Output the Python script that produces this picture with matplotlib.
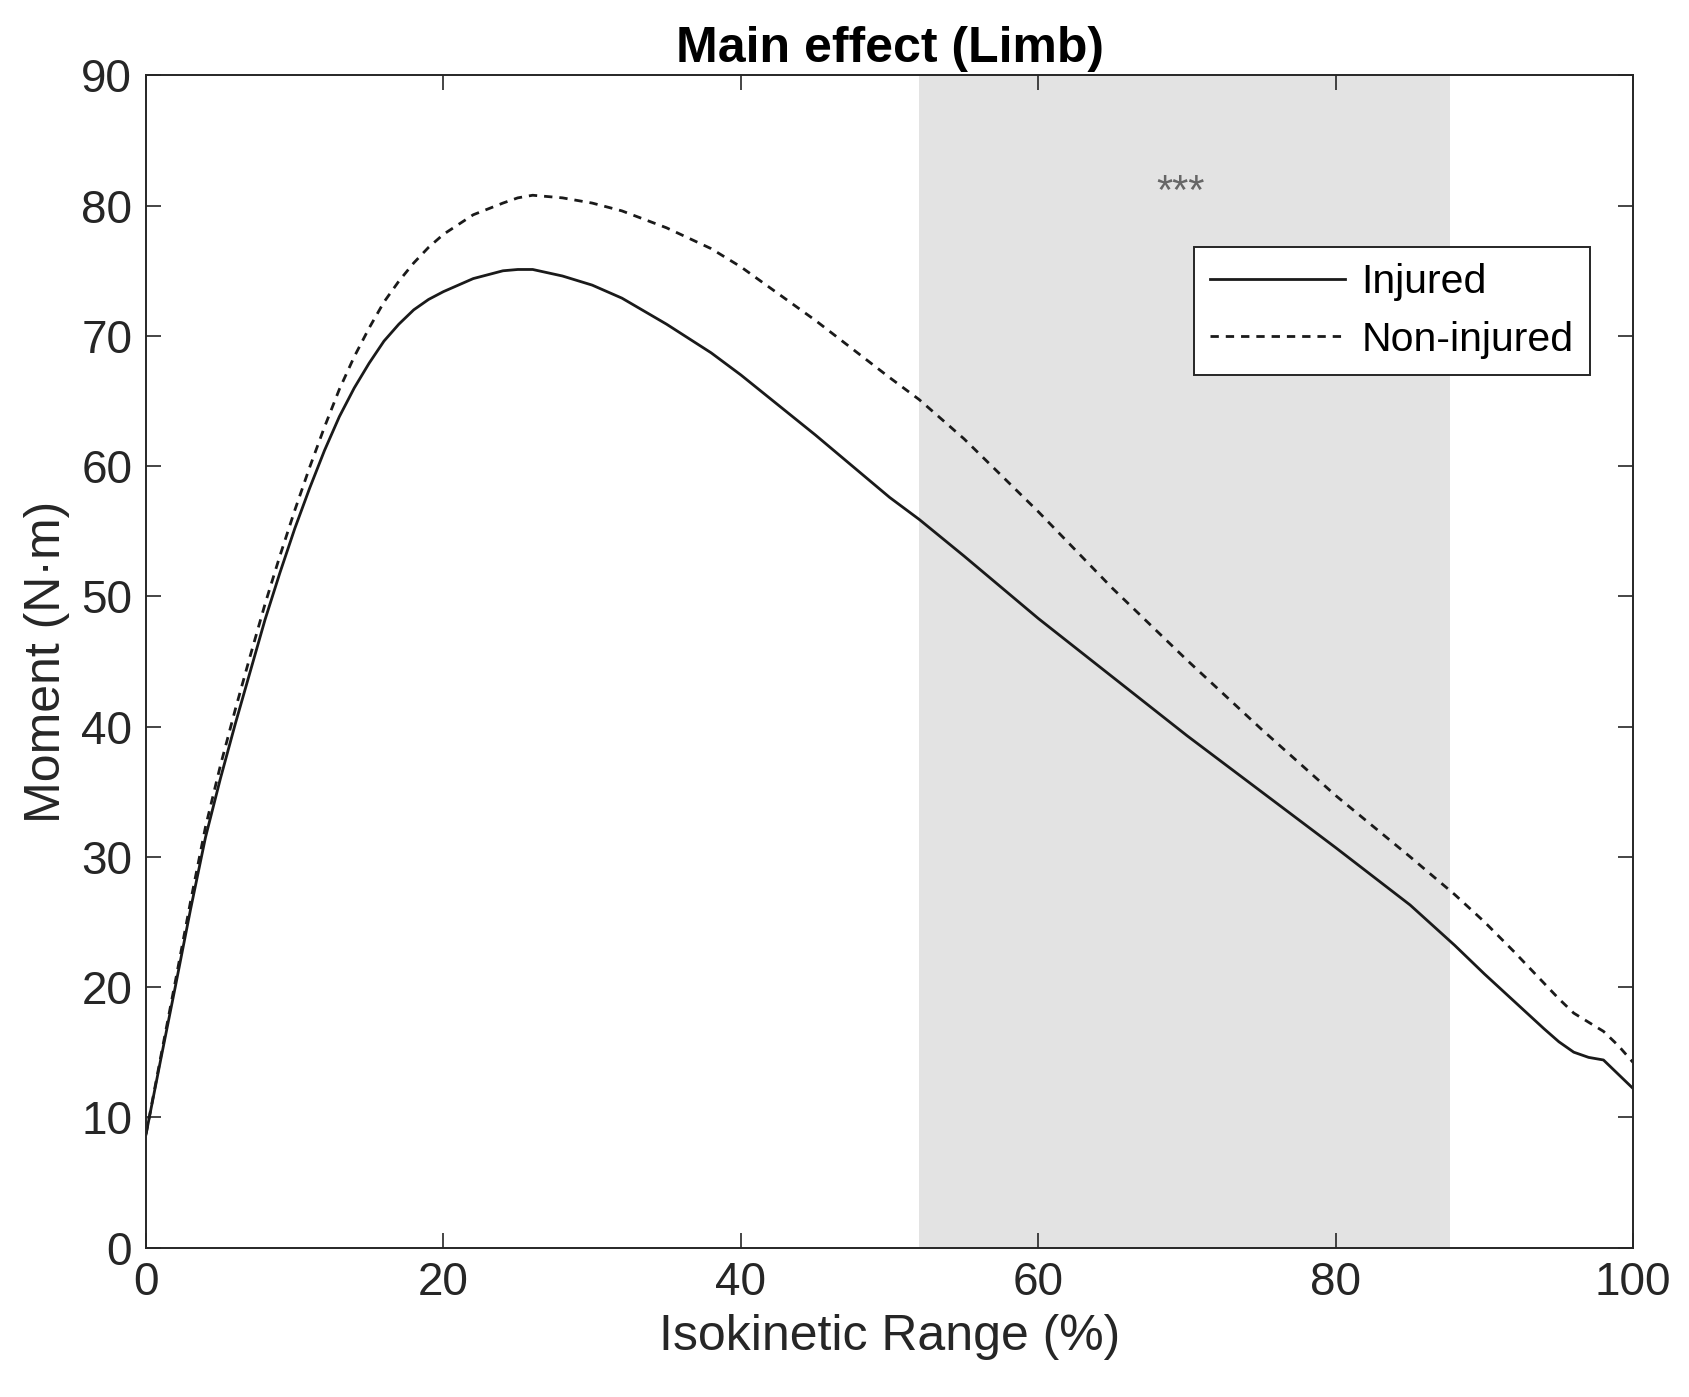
import numpy as np
import matplotlib.pyplot as plt

plt.rcParams['font.family'] = ['Liberation Sans', 'DejaVu Sans']

# data
x_pts = [0, 1, 2, 3, 4, 5, 6, 7, 8, 9, 10, 11, 12, 13, 14, 15, 16, 17, 18, 19, 20, 22, 24,
         25, 26, 28, 30, 32, 35, 38, 40, 45, 50, 52, 55, 60, 65, 70, 75, 80, 85, 88, 90,
         92, 94, 95, 96, 97, 98, 99, 100]
injured = [8.7, 14.5, 20.2, 26, 31.5, 36, 40.2, 44.2, 48.2, 51.8, 55.2, 58.3, 61.2, 63.8,
           66.0, 67.9, 69.6, 70.9, 72.0, 72.8, 73.4, 74.4, 75.0, 75.1, 75.1, 74.6, 73.9,
           72.9, 70.9, 68.7, 67.0, 62.4, 57.6, 55.9, 53.1, 48.3, 43.8, 39.3, 35.0, 30.7,
           26.3, 23.2, 21.0, 18.9, 16.8, 15.8, 15.0, 14.6, 14.4, 13.3, 12.2]
non_injured = [8.7, 14.7, 20.6, 26.6, 32.3, 37.0, 41.3, 45.4, 49.4, 53.1, 56.6, 59.9,
               63.0, 65.9, 68.4, 70.6, 72.6, 74.2, 75.6, 76.8, 77.8, 79.3, 80.2, 80.6,
               80.8, 80.6, 80.2, 79.6, 78.3, 76.7, 75.3, 71.2, 66.8, 65.1, 62.1, 56.5,
               50.6, 45.1, 39.8, 34.7, 30.0, 27.1, 25.0, 22.7, 20.3, 19.1, 18.0, 17.3,
               16.6, 15.5, 14.2]
sig_start, sig_end = 52, 87.7
labels = ['Injured', 'Non-injured']

fig = plt.figure(figsize=(16.9, 13.97), dpi=100)
ax = fig.add_axes([0.0864, 0.107, 0.88, 0.839])

ax.axvspan(sig_start, sig_end, color='#e3e3e3', lw=0, zorder=0)
ax.text((sig_start + sig_end) / 2 - 0.3, 81.0, '***', ha='center', va='center',
        fontsize=30, color='#666666')

ax.plot(x_pts, injured, color='#1a1a1a', lw=2.0, label=labels[0])
ax.plot(x_pts, non_injured, color='#1a1a1a', lw=2.0, ls=(0, (3, 2.5)), label=labels[1])

ax.set_xlim(0, 100)
ax.set_ylim(0, 90)
ax.set_xticks(np.arange(0, 101, 20))
ax.set_yticks(np.arange(0, 91, 10))
ax.tick_params(direction='in', length=11, width=1.2, top=True, right=True,
               labelsize=33, colors='#262626', pad=10)
for s in ax.spines.values():
    s.set_color('#262626')
    s.set_linewidth(1.4)

ax.set_xlabel('Isokinetic Range (%)', fontsize=36, color='#262626', labelpad=6)
ax.set_ylabel('Moment (N·m)', fontsize=36, color='#262626', labelpad=8)
ax.set_title('Main effect (Limb)', fontsize=36, fontweight='bold', pad=10)

leg = ax.legend(loc='upper right', bbox_to_anchor=(0.971, 0.854), borderaxespad=0,
                fontsize=29.5, fancybox=False, framealpha=1, edgecolor='#262626',
                handlelength=3.3, handletextpad=0.4, borderpad=0.4, labelspacing=0.48)
leg.get_frame().set_linewidth(1.4)

fig.savefig('out.png', dpi=100)
